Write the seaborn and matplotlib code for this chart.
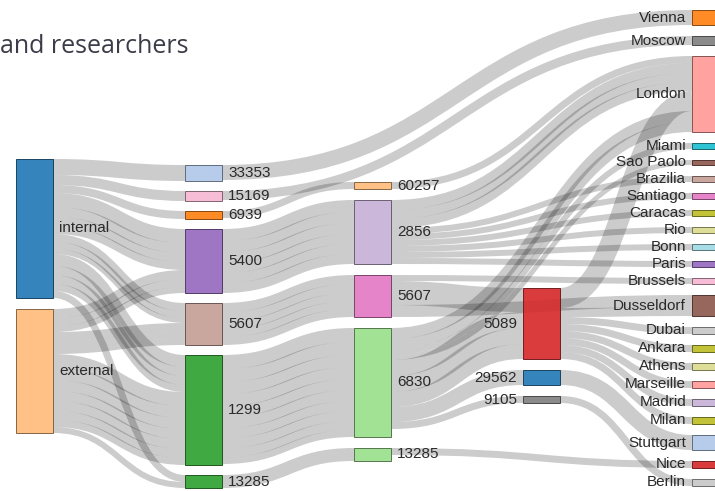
import matplotlib
matplotlib.use("Agg")
import matplotlib.pyplot as plt
import matplotlib.colors as mcolors
from matplotlib.path import Path
from matplotlib.patches import PathPatch, Rectangle
import seaborn as sns

sns.set_theme(style="white")
plt.rcParams["font.family"] = ["Liberation Sans", "DejaVu Sans"]

# nodes: id, label, column, colour
node_ids = ["internal", "external",
            "33353", "15169", "6939", "5400", "5607a", "1299", "13285a",
            "60257", "2856", "5607b", "6830", "13285b",
            "5089", "29562", "9105",
            "Vienna", "Moscow", "London", "Miami", "Sao Paolo", "Brazilia", "Santiago",
            "Caracas", "Rio", "Bonn", "Paris", "Brussels", "Dusseldorf", "Dubai",
            "Ankara", "Athens", "Marseille", "Madrid", "Milan", "Stuttgart", "Nice", "Berlin"]
node_labels = ["internal", "external",
               "33353", "15169", "6939", "5400", "5607", "1299", "13285",
               "60257", "2856", "5607", "6830", "13285",
               "5089", "29562", "9105",
               "Vienna", "Moscow", "London", "Miami", "Sao Paolo", "Brazilia", "Santiago",
               "Caracas", "Rio", "Bonn", "Paris", "Brussels", "Dusseldorf", "Dubai",
               "Ankara", "Athens", "Marseille", "Madrid", "Milan", "Stuttgart", "Nice", "Berlin"]
node_cols = [0, 0,
             1, 1, 1, 1, 1, 1, 1,
             2, 2, 2, 2, 2,
             3, 3, 3] + [4] * 22
node_colors = ["#1f77b4", "#ffbb78",
               "#aec7e8", "#f7b6d2", "#ff7f0e", "#9467bd", "#c49c94", "#2ca02c", "#2ca02c",
               "#ffbb78", "#c5b0d5", "#e377c2", "#98df8a", "#98df8a",
               "#d62728", "#1f77b4", "#7f7f7f",
               "#ff7f0e", "#7f7f7f", "#ff9896", "#17becf", "#8c564b", "#c49c94", "#e377c2",
               "#bcbd22", "#dbdb8d", "#9edae5", "#9467bd", "#f7b6d2", "#8c564b", "#c7c7c7",
               "#bcbd22", "#dbdb8d", "#ff9896", "#c5b0d5", "#bcbd22", "#aec7e8", "#d62728", "#c7c7c7"]

# links (repeated pairs = separate strands)
link_src = (["internal"] * 15 + ["external"] * 14
            + ["33353", "15169", "6939"] + ["5400"] * 6 + ["5607a"] * 5 + ["1299"] * 10 + ["13285a"]
            + ["60257"] + ["2856"] * 9 + ["5607b"] * 5 + ["6830"] * 9 + ["13285b"]
            + ["5089"] * 8 + ["29562", "9105"])
link_dst = (["33353", "15169", "6939", "5400", "5400", "5400", "5400", "5607a", "5607a", "5607a",
             "1299", "1299", "1299", "1299", "13285a"]
            + ["5400", "5400", "5400", "5607a", "5607a", "5607a",
               "1299", "1299", "1299", "1299", "1299", "1299", "1299", "13285a"]
            + ["Vienna", "Moscow", "60257"] + ["2856"] * 6 + ["5607b"] * 5 + ["6830"] * 10 + ["13285b"]
            + ["London"] + ["London", "London", "London", "Brazilia", "Santiago", "Caracas", "Rio", "Bonn", "Paris"]
            + ["Brussels", "5089", "5089", "5089", "Dusseldorf"]
            + ["London", "London", "Miami", "Sao Paolo", "5089", "5089", "5089", "29562", "9105"]
            + ["Nice"]
            + ["London", "Dusseldorf", "Dubai", "Ankara", "Athens", "Marseille", "Madrid", "Milan"]
            + ["Stuttgart", "Berlin"])
link_val = ([16, 10, 8, 14, 10, 9, 8, 8, 7, 5, 12, 9, 9, 7, 7]
            + [9, 8, 6, 8, 8, 6, 14, 12, 11, 10, 10, 9, 7, 6]
            + [15, 9, 7] + [12, 11, 11, 10, 10, 10] + [9, 9, 8, 8, 8] + [14, 13, 12, 12, 11, 11, 10, 10, 9, 7] + [13]
            + [7] + [10, 9, 9, 6, 6, 6, 6, 6, 6]
            + [6, 8, 8, 8, 12]
            + [11, 10, 6, 5, 16, 16, 15, 15, 7]
            + [7]
            + [20, 9, 7, 7, 7, 7, 7, 7]
            + [15, 7])

# layout settings (value units == pixels)
col_top = [159, 165, 182, 288, 10]
col_pad = [11, 10, 11, 11, 11]
col_step_px = 169
node_w = 37 / col_step_px
W, H, DPI = 715, 491, 100

# node sizes: max of in / out
val_in = {n: 0 for n in node_ids}
val_out = {n: 0 for n in node_ids}
for s, t, v in zip(link_src, link_dst, link_val):
    val_out[s] += v
    val_in[t] += v
node_val = {n: max(val_in[n], val_out[n]) for n in node_ids}

node_y0 = {}
for c in range(5):
    y = col_top[c]
    for n, nc in zip(node_ids, node_cols):
        if nc == c:
            node_y0[n] = y
            y += node_val[n] + col_pad[c]
col_of = dict(zip(node_ids, node_cols))

# link end positions, sorted like d3-sankey
idx = range(len(link_val))
ly0, ly1 = {}, {}
for n in node_ids:
    outs = sorted([i for i in idx if link_src[i] == n], key=lambda i: node_y0[link_dst[i]])
    y = node_y0[n]
    for i in outs:
        ly0[i] = y + link_val[i] / 2
        y += link_val[i]
    ins = sorted([i for i in idx if link_dst[i] == n], key=lambda i: node_y0[link_src[i]])
    y = node_y0[n]
    for i in ins:
        ly1[i] = y + link_val[i] / 2
        y += link_val[i]

fig = plt.figure(figsize=(W / DPI, H / DPI), dpi=DPI)
ax = fig.add_axes([0, 0, 1, 1])
ax.set_xlim(-16 / col_step_px, (W - 16) / col_step_px)
ax.set_ylim(H, 0)
ax.axis("off")

for i in idx:
    x0 = col_of[link_src[i]] + node_w
    x1 = col_of[link_dst[i]]
    xm = (x0 + x1) / 2
    path = Path([(x0, ly0[i]), (xm, ly0[i]), (xm, ly1[i]), (x1, ly1[i])],
                [Path.MOVETO, Path.CURVE4, Path.CURVE4, Path.CURVE4])
    ax.add_patch(PathPatch(path, fill=False, edgecolor=(0, 0, 0, 0.2),
                           lw=max(1, link_val[i]) * 72 / DPI, capstyle="butt"))

pad_x = 6 / col_step_px
for n, lab, c, col in zip(node_ids, node_labels, node_cols, node_colors):
    y0 = node_y0[n]
    h = node_val[n]
    rgb = mcolors.to_rgb(col)
    edge = tuple(v * 0.49 for v in rgb)
    ax.add_patch(Rectangle((c, y0), node_w, h, facecolor=col, alpha=0.9,
                           edgecolor=edge, lw=0.72))
    if c < 3:
        ax.text(c + node_w + pad_x, y0 + h / 2, lab, ha="left", va="center",
                fontsize=11, color="#2a2a2a")
    else:
        ax.text(c - pad_x, y0 + h / 2, lab, ha="right", va="center",
                fontsize=11, color="#2a2a2a")

fig.text(0.0, 1 - 53 / H, "and researchers", ha="left", va="baseline",
         fontsize=18, color="#3c3c48", family=["Open Sans", "DejaVu Sans"])

fig.savefig("out.png", dpi=DPI)
